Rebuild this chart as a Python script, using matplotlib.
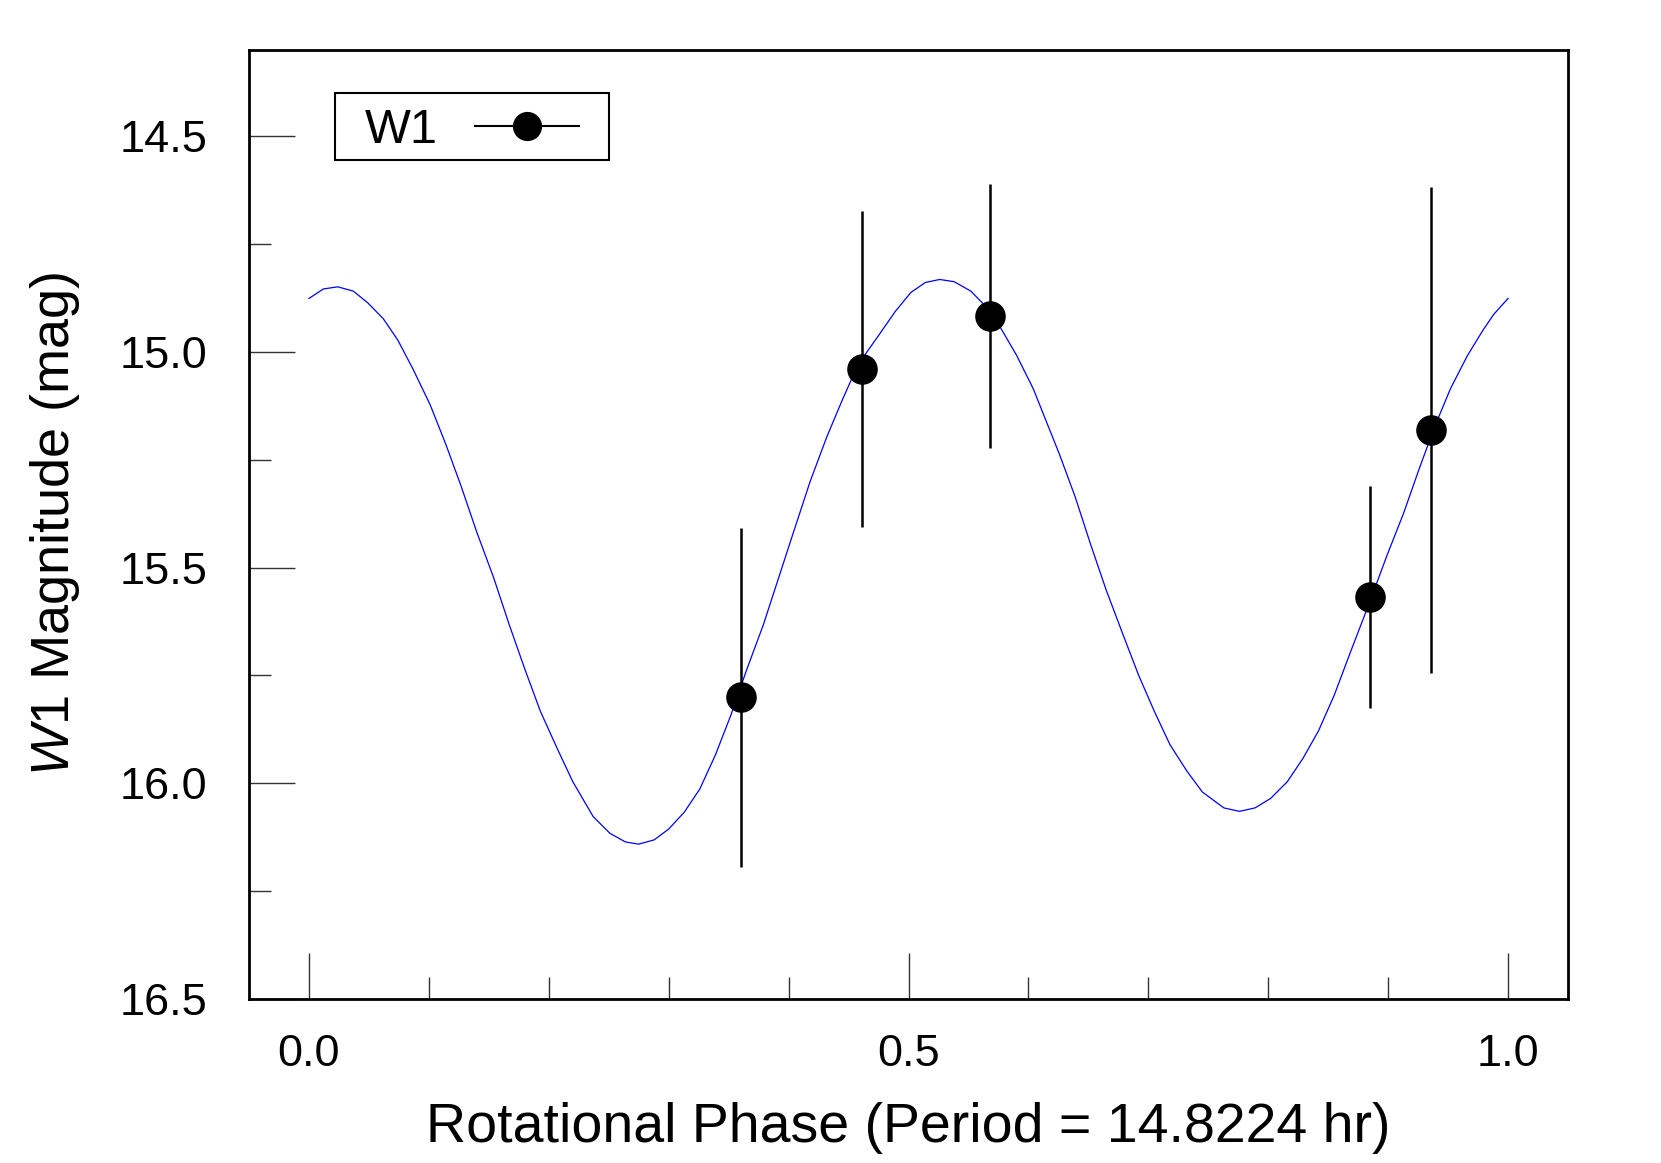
import numpy as np
import matplotlib
matplotlib.use('Agg')
import matplotlib.pyplot as plt
from matplotlib.lines import Line2D
from matplotlib.patches import Rectangle

plt.rcParams['font.family'] = 'Liberation Sans'
plt.rcParams['mathtext.fontset'] = 'custom'
plt.rcParams['mathtext.rm'] = 'Liberation Sans'
plt.rcParams['mathtext.it'] = 'Liberation Sans:italic'

# observed W1 points
phase_obs = [0.360, 0.461, 0.568, 0.885, 0.936]
mag_obs = [15.801, 15.039, 14.916, 15.568, 15.181]
mag_err = [0.393, 0.366, 0.306, 0.258, 0.563]

# fitted lightcurve
phase_fit = [0.000, 0.012, 0.024, 0.037, 0.049, 0.062, 0.074, 0.087, 0.101, 0.114,
             0.127, 0.140, 0.154, 0.167, 0.180, 0.193, 0.207, 0.220, 0.237, 0.251,
             0.264, 0.275, 0.288, 0.300, 0.313, 0.326, 0.339, 0.352, 0.365, 0.379,
             0.392, 0.405, 0.418, 0.432, 0.445, 0.458, 0.476, 0.489, 0.502, 0.514,
             0.526, 0.538, 0.552, 0.565, 0.577, 0.590, 0.604, 0.626, 0.639, 0.652,
             0.665, 0.679, 0.692, 0.705, 0.718, 0.732, 0.745, 0.763, 0.776, 0.789,
             0.802, 0.816, 0.829, 0.842, 0.855, 0.868, 0.885, 0.899, 0.913, 0.926,
             0.939, 0.952, 0.966, 0.979, 0.988, 1.000]
mag_fit = [14.876, 14.854, 14.849, 14.859, 14.886, 14.923, 14.972, 15.041, 15.122, 15.213,
           15.312, 15.418, 15.523, 15.632, 15.735, 15.833, 15.919, 15.996, 16.077, 16.116,
           16.136, 16.141, 16.131, 16.106, 16.067, 16.013, 15.934, 15.841, 15.737, 15.632,
           15.521, 15.410, 15.300, 15.196, 15.110, 15.029, 14.958, 14.906, 14.862, 14.839,
           14.832, 14.837, 14.859, 14.896, 14.945, 15.007, 15.085, 15.238, 15.336, 15.447,
           15.553, 15.656, 15.750, 15.833, 15.910, 15.971, 16.020, 16.057, 16.065, 16.057,
           16.035, 15.996, 15.942, 15.878, 15.796, 15.700, 15.577, 15.472, 15.373, 15.270,
           15.172, 15.085, 15.009, 14.950, 14.913, 14.876]

fig = plt.figure(figsize=(16.61, 11.63), dpi=100)
ax = fig.add_axes([249/1661, 1 - 999/1163, (1568-249)/1661, (999-50)/1163])

ax.plot(phase_fit, mag_fit, color='#0000ff', lw=0.9, zorder=2)
ax.errorbar(phase_obs, mag_obs, yerr=mag_err, fmt='o', color='black', ms=21,
            elinewidth=1.8, capsize=0, zorder=3)

ax.set_xlim(-0.05, 1.05)
ax.set_ylim(16.5, 14.3)

ax.set_xticks([0.0, 0.5, 1.0])
ax.set_xticks(np.arange(0.1, 1.0, 0.1), minor=True)
ax.set_xticklabels(['0.0', '0.5', '1.0'])
ax.set_yticks([14.5, 15.0, 15.5, 16.0, 16.5])
ax.set_yticks([14.75, 15.25, 15.75, 16.25], minor=True)
ax.set_yticklabels(['14.5', '15.0', '15.5', '16.0', '16.5'])

ax.tick_params(which='both', direction='in', top=False, right=False, width=1.0, color='#333333')
ax.tick_params(which='major', length=33, labelsize=32.5)
ax.tick_params(which='minor', length=16)
ax.tick_params(axis='x', which='major', pad=25)
ax.tick_params(axis='y', which='major', pad=30)
for s in ax.spines.values():
    s.set_linewidth(2.0)

ax.set_xlabel('Rotational Phase (Period = 14.8224 hr)', fontsize=40, labelpad=20)
ax.set_ylabel('$\\mathit{W1}$ Magnitude (mag)', fontsize=39, labelpad=27)

# legend: frame drawn as its own box, entries placed inside
bx0, bx1 = 0.0652, 0.2729
by0, by1 = 0.8841, 0.9547
ax.add_patch(Rectangle((bx0, by0), bx1 - bx0, by1 - by0, transform=ax.transAxes,
                       fill=True, facecolor='white', edgecolor='black', lw=1.5, zorder=4))
handle = Line2D([], [], color='black', marker='o', ms=20, lw=1.5)
leg = ax.legend([handle], ['W1'], loc='center',
                bbox_to_anchor=((bx0 + bx1) / 2, (by0 + by1) / 2 - 0.004),
                fontsize=35, markerfirst=False, handlelength=2.14, handletextpad=0.76,
                frameon=False, borderpad=0, borderaxespad=0)
leg.set_zorder(5)

plt.savefig('out.png', dpi=100)
